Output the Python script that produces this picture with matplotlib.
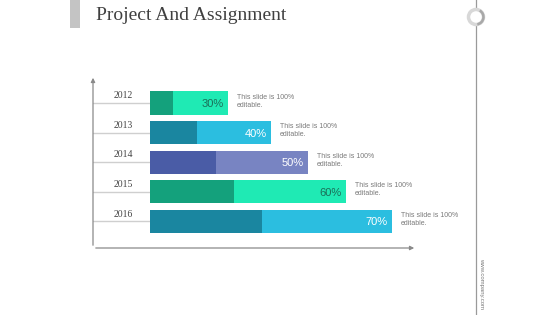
import matplotlib
matplotlib.use("Agg")
import matplotlib.pyplot as plt
from matplotlib.patches import Rectangle, Circle, Wedge

years = ["2012", "2013", "2014", "2015", "2016"]
pct_labels = ["30%", "40%", "50%", "60%", "70%"]
total_len = [78, 121, 158, 196, 242]
dark_len = [23, 47, 66, 84, 112]
dark_colors = ["#14A17C", "#1A86A0", "#4A5CA6", "#14A17C", "#1A86A0"]
light_colors = ["#1FEAB4", "#2BBEE0", "#7884C2", "#1FEAB4", "#2BBEE0"]
label_colors = ["#1B6E58", "white", "white", "#1B6E58", "white"]
note_text = "This slide is 100%\neditable."

fig = plt.figure(figsize=(5.6, 3.15), dpi=100)
fig.patch.set_facecolor("white")

# decorations in figure pixel coords
deco = fig.add_axes([0, 0, 1, 1])
deco.set_xlim(0, 560)
deco.set_ylim(315, 0)
deco.axis("off")
deco.add_patch(Rectangle((70, 0), 10, 28, color="#C4C4C4", lw=0))
deco.text(96, 16, "Project And Assignment", family="Liberation Serif",
          fontsize=14, color="#404040", va="center", ha="left")
deco.plot([476, 476], [0, 315], color="#9A9A9A", lw=0.9)
deco.add_patch(Circle((476, 17), 7.5, facecolor="white", edgecolor="#D8D8D8", lw=2.5, zorder=3))
deco.add_patch(Wedge((476, 17), 8.7, -60, 80, width=2.5, facecolor="#A8A8A8", lw=0, zorder=4))
deco.text(482, 284, "www.company.com", rotation=-90, fontsize=4.3, color="#777777",
          family="Liberation Sans", ha="center", va="center")

# main chart
ax = fig.add_axes([93 / 560, 1 - 248 / 315, (417 - 93) / 560, (248 - 75) / 315])
ax.set_xlim(-57, 267)
n = len(years)
ax.set_ylim(n - 1 + 0.895, -0.946)
ax.axis("off")
ypos = list(range(n))
h = 0.78
ax.barh(ypos, total_len, height=h, color=light_colors, left=0, zorder=2)
ax.barh(ypos, dark_len, height=h, color=dark_colors, left=0, zorder=3)

for i, y in enumerate(ypos):
    ax.plot([-57, 0], [y, y], color="#CFCFCF", lw=1, zorder=1)
    ax.text(-27, y - 0.1, years[i], family="Liberation Serif", fontsize=7,
            color="#444444", ha="center", va="bottom")
    ax.text(total_len[i] - 4, y + 0.03, pct_labels[i], fontsize=8, color=label_colors[i],
            family="Liberation Sans", ha="right", va="center", zorder=4)
    ax.text(total_len[i] + 9, y - 0.32, note_text, fontsize=5.0, color="#7A7A7A",
            family="Liberation Sans", ha="left", va="top", linespacing=1.2)

# axes arrows
ax.annotate("", xy=(-57, -0.946), xytext=(-57, n - 1 + 0.895),
            arrowprops=dict(arrowstyle="-|>", color="#8A8A8A", lw=0.9, mutation_scale=6),
            annotation_clip=False)
ax.annotate("", xy=(267, n - 1 + 0.895), xytext=(-57, n - 1 + 0.895),
            arrowprops=dict(arrowstyle="-|>", color="#8A8A8A", lw=0.9, mutation_scale=6),
            annotation_clip=False)

fig.savefig("out.png", dpi=100, facecolor="white")
